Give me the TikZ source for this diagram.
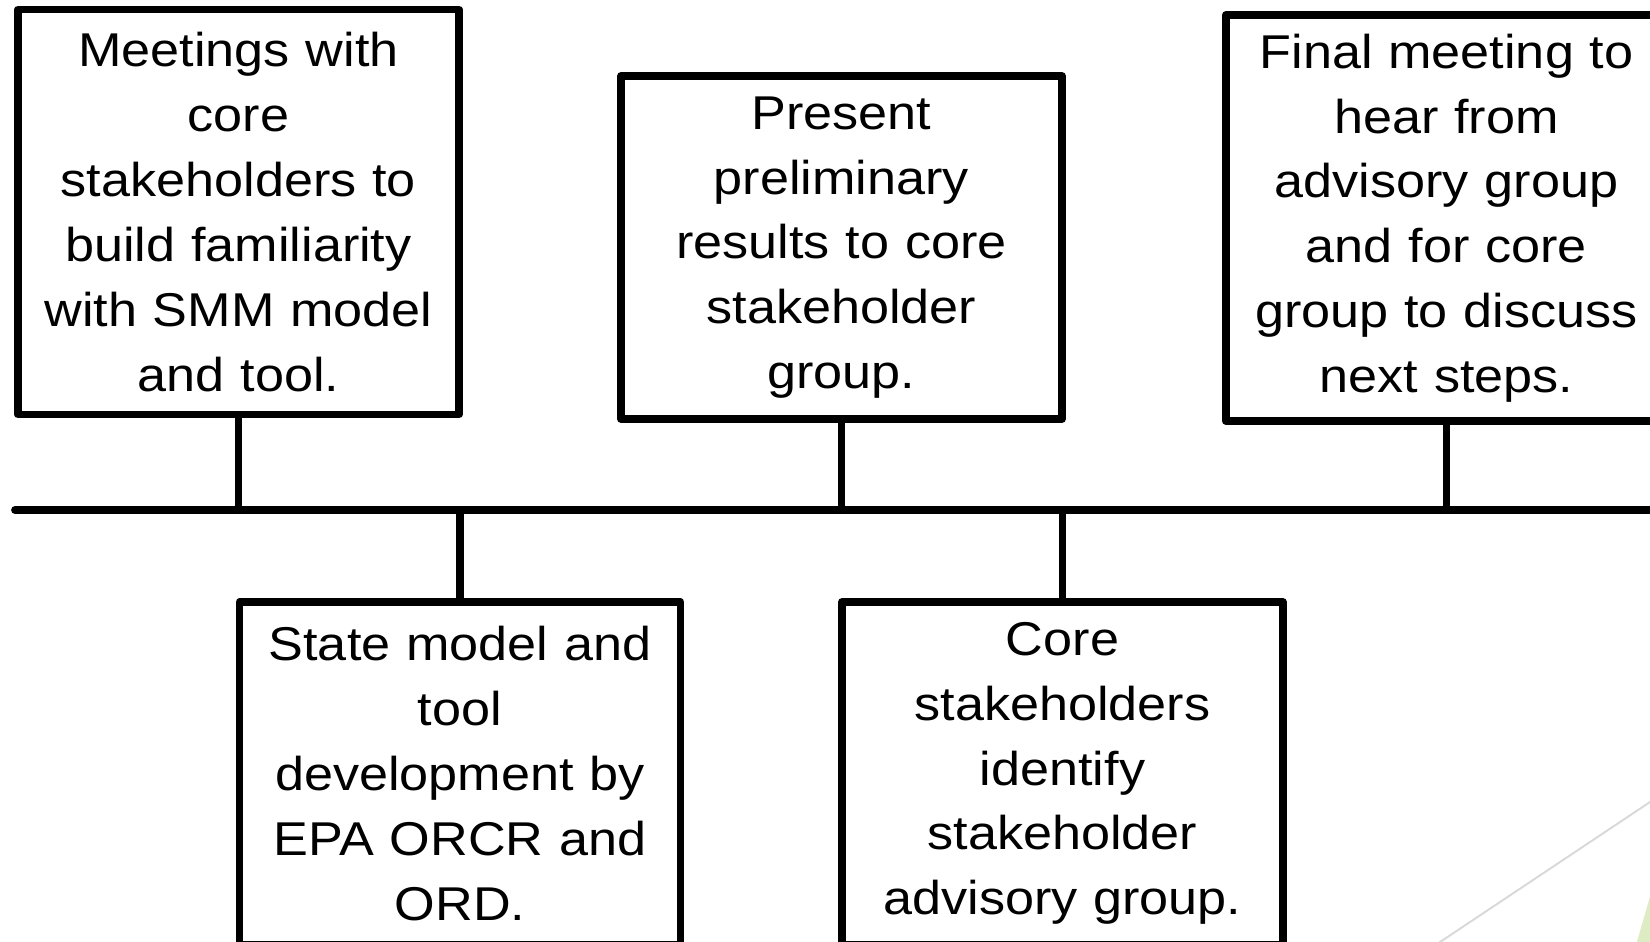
\documentclass[tikz,border=0pt]{standalone}
\usepackage{fontspec}
\setmainfont{Liberation Sans}[FakeStretch=1.1]
\usetikzlibrary{positioning}
\definecolor{decogrey}{RGB}{217,217,217}
\definecolor{decogreen}{RGB}{222,236,196}

\begin{document}
\begin{tikzpicture}[
    x=0.02cm, y=-0.02cm,
    box/.style={rectangle, draw, line width=4.4pt, line join=round, inner sep=0pt,
        minimum width=8.82cm, text width=8.7cm, align=center,
        font=\fontsize{27}{36.9}\selectfont},
    stem/.style={line width=4.4pt}
]
\useasboundingbox (0,0) rectangle (1650,942);
\clip (0,0) rectangle (1650,942);
% corner decoration
\draw[decogrey, line width=1.1pt] (1380,982) -- (1710,762);
\fill[decogreen] (1634,952) -- (1660,862) -- (1660,952) -- cycle;
% events above the line
\node[box, minimum height=8.1cm] (meetings) at (238.5,212) {Meetings with\\core\\stakeholders to\\build familiarity\\with SMM model\\and tool.};
\node[box, minimum height=6.86cm] (present) at (841.5,247.5) {Present\\preliminary\\results to core\\stakeholder\\group.};
\node[box, minimum height=8.13cm] (final) at (1446.5,218) {Final meeting to\\hear from\\advisory group\\and for core\\group to discuss\\next steps.};
% events below the line
\node[box, minimum height=6.86cm] (state) at (460,773.5) {State model and\\tool\\development by\\EPA ORCR and\\ORD.};
\node[box, minimum height=6.86cm] (core) at (1062.5,773.5) {Core\\stakeholders\\identify\\stakeholder\\advisory group.};
% timeline
\coordinate (start) at (15,510);
\coordinate (end) at (1700,510);
\draw[stem, line cap=round] (start) -- (end);
\draw[stem] (meetings.south) -- (meetings.south |- start);
\draw[stem] (present.south) -- (present.south |- start);
\draw[stem] (final.south) -- (final.south |- start);
\draw[stem] (state.north) -- (state.north |- start);
\draw[stem] (core.north) -- (core.north |- start);
\end{tikzpicture}
\end{document}
